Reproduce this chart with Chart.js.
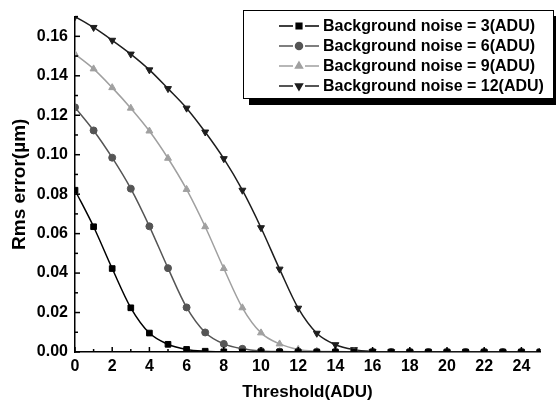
<!DOCTYPE html>
<html>
<head>
<meta charset="utf-8">
<script src="https://cdn.jsdelivr.net/npm/chart.js@4/dist/chart.umd.min.js"></script>
<style>
  html, body { margin: 0; padding: 0; background: #fff; }
  canvas { display: block; }
</style>
</head>
<body>
<canvas id="chart" width="556" height="407"></canvas>
<script>
const thresholds = [0,1,2,3,4,5,6,7,8,9,10,11,12,13,14,15,16,17,18,19,20,21,22,23,24,25];
const noise3  = [0.082,0.0635,0.0423,0.0224,0.0096,0.0039,0.0013,0.0004,0.0001,0,0,0,0,0,0,0,0,0,0,0,0,0,0,0,0,0];
const noise6  = [0.124,0.1123,0.0985,0.0828,0.0637,0.0425,0.0226,0.0099,0.0041,0.0016,0.0005,0.0002,0.0001,0,0,0,0,0,0,0,0,0,0,0,0,0];
const noise9  = [0.151,0.1435,0.134,0.1236,0.112,0.0982,0.0824,0.0635,0.0423,0.0224,0.0097,0.0041,0.0013,0.0004,0.0002,0.0001,0,0,0,0,0,0,0,0,0,0];
const noise12 = [0.170,0.1645,0.158,0.151,0.143,0.1335,0.1236,0.1115,0.098,0.082,0.063,0.042,0.0222,0.0095,0.0037,0.0012,0.0003,0.0001,0,0,0,0,0,0,0,0];
const seriesLabels = ['Background noise = 3(ADU)','Background noise = 6(ADU)','Background noise = 9(ADU)','Background noise = 12(ADU)'];
const xTickLabels = [0,2,4,6,8,10,12,14,16,18,20,22,24];
const yTickLabels = [0,0.02,0.04,0.06,0.08,0.10,0.12,0.14,0.16];

const colors = ['#000000','#555555','#a0a0a0','#1e1e1e'];
const styles = ['rect','circle','triangle','triangle'];
const rotations = [0,0,0,180];
const radii = [4,3.5,4,4];
const allSeries = [noise3, noise6, noise9, noise12];

const datasets = allSeries.map((s, i) => ({
  label: seriesLabels[i],
  data: thresholds.map((x, j) => ({ x: x, y: s[j] })),
  borderColor: colors[i],
  backgroundColor: colors[i],
  borderWidth: 1.5,
  pointStyle: styles[i],
  rotation: rotations[i],
  pointRadius: radii[i],
  pointBorderWidth: 1,
  cubicInterpolationMode: 'monotone'
}));

const FONT = 'Arial, "Liberation Sans", sans-serif';

// inward ticks, major + minor
const innerTicks = {
  id: 'innerTicks',
  afterDatasetsDraw(chart) {
    const { ctx, chartArea, scales } = chart;
    ctx.save();
    ctx.strokeStyle = '#000';
    ctx.lineWidth = 1.5;
    for (let v = 0; v <= 25; v++) {
      const px = scales.x.getPixelForValue(v);
      const len = v % 2 === 0 ? 5 : 3;
      ctx.beginPath();
      ctx.moveTo(px, chartArea.bottom);
      ctx.lineTo(px, chartArea.bottom - len);
      ctx.stroke();
    }
    for (let k = 0; k <= 17; k++) {
      const py = scales.y.getPixelForValue(k * 0.01);
      const len = k % 2 === 0 ? 5 : 3;
      ctx.beginPath();
      ctx.moveTo(chartArea.left, py);
      ctx.lineTo(chartArea.left + len, py);
      ctx.stroke();
    }
    ctx.restore();
  }
};

// legend box with shadow and line-marker-line samples
const boxLegend = {
  id: 'boxLegend',
  afterDraw(chart) {
    const ctx = chart.ctx;
    const bx = 243, by = 10, bw = 310, bh = 88;
    ctx.save();
    ctx.fillStyle = '#000';
    ctx.fillRect(bx + 6, by + bh, bw, 7);
    ctx.fillRect(bx + bw, by + 6, 4, bh);
    ctx.fillStyle = '#fff';
    ctx.fillRect(bx, by, bw, bh);
    ctx.strokeStyle = '#000';
    ctx.lineWidth = 1;
    ctx.strokeRect(bx + 0.5, by + 0.5, bw, bh);
    chart.data.datasets.forEach((ds, i) => {
      const y = 26 + i * 20;
      ctx.strokeStyle = ds.borderColor;
      ctx.lineWidth = 1.5;
      ctx.beginPath();
      ctx.moveTo(279, y); ctx.lineTo(293, y);
      ctx.moveTo(305, y); ctx.lineTo(319, y);
      ctx.stroke();
      ctx.fillStyle = ds.borderColor;
      Chart.helpers.drawPoint(ctx, {
        pointStyle: ds.pointStyle, rotation: ds.rotation, radius: ds.pointRadius, borderWidth: 1
      }, 299, y);
      ctx.fillStyle = '#000';
      ctx.font = 'bold 16px ' + FONT;
      ctx.textBaseline = 'middle';
      ctx.textAlign = 'left';
      ctx.fillText(ds.label, 323, y + 1);
    });
    ctx.restore();
  }
};

new Chart(document.getElementById('chart'), {
  type: 'line',
  data: { datasets: datasets },
  options: {
    responsive: false,
    animation: false,
    layout: { padding: { top: 10, right: 16, bottom: 0, left: 0 } },
    plugins: { legend: { display: false }, tooltip: { enabled: false } },
    scales: {
      x: {
        type: 'linear',
        min: 0, max: 25,
        afterFit(scale) { scale.height = 55; },
        afterBuildTicks(scale) { scale.ticks = xTickLabels.map(v => ({ value: v })); },
        grid: { display: false, drawTicks: false },
        border: { color: '#000', width: 1.5 },
        ticks: { color: '#000', padding: 5, maxRotation: 0, autoSkip: false, font: { family: FONT, size: 16, weight: 'bold' } },
        title: { display: true, text: 'Threshold(ADU)', color: '#000', padding: { top: 0, bottom: 4 }, font: { family: FONT, size: 17, weight: 'bold' } }
      },
      y: {
        min: 0, max: 0.17,
        afterFit(scale) { scale.width = 75; },
        afterBuildTicks(scale) { scale.ticks = yTickLabels.map(v => ({ value: v })); },
        grid: { display: false, drawTicks: false },
        border: { color: '#000', width: 1.5 },
        ticks: { color: '#000', padding: 7, autoSkip: false, callback: v => v.toFixed(2), font: { family: FONT, size: 16, weight: 'bold' } },
        title: { display: true, text: 'Rms error(\u00b5m)', color: '#000', padding: { top: 8, bottom: 0 }, font: { family: FONT, size: 19, weight: 'bold' } }
      }
    }
  },
  plugins: [innerTicks, boxLegend]
});
</script>
</body>
</html>
